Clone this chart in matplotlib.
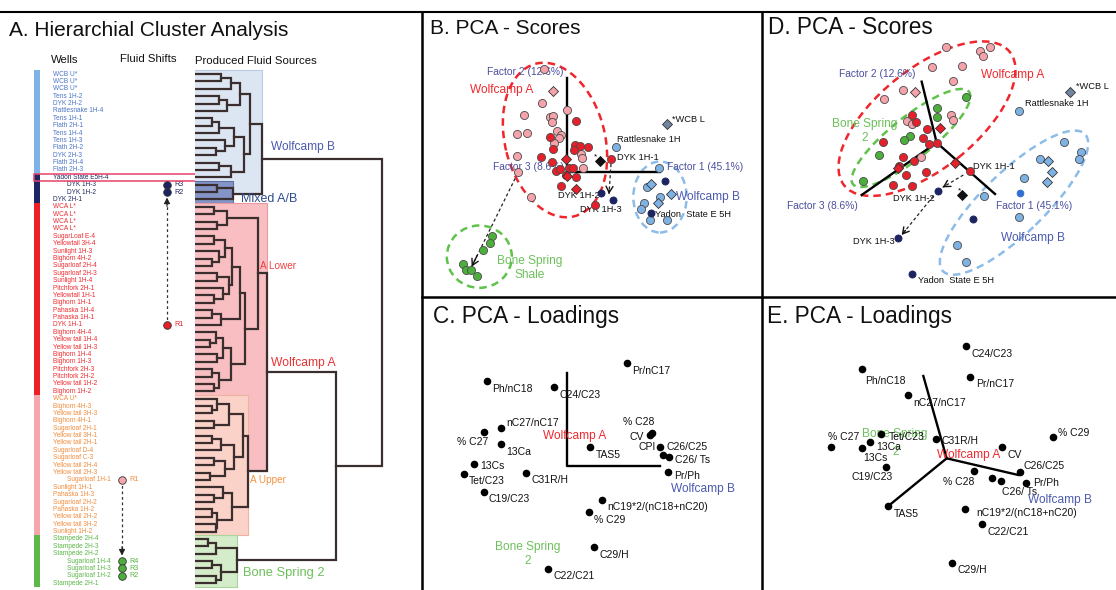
import matplotlib
matplotlib.use("Agg")
import matplotlib.pyplot as plt
from matplotlib.patches import Ellipse, Rectangle

plt.rcParams['font.family'] = ['Liberation Sans', 'DejaVu Sans']

W, H = 1116, 590
fig = plt.figure(figsize=(W / 100, H / 100), dpi=100)

# ============================ DATA ============================
# ---- Panel A: wells (dendrogram leaves, top to bottom) ----
well_names = [
    "WCB U*", "WCB U*", "WCB U*", "Tens 1H-2", "DYK 2H-2", "Rattlesnake 1H-4", "Tens 1H-1",
    "Flath 2H-1", "Tens 1H-4", "Tens 1H-3", "Flath 2H-2", "DYK 2H-3", "Flath 2H-4", "Flath 2H-3",
    "Yadon State E5H-4", "DYK 1H-3", "DYK 1H-2", "DYK 2H-1",
    "WCA L*", "WCA L*", "WCA L*", "WCA L*", "SugarLoaf E-4", "Yellowtail 3H-4", "Sunlight 1H-3",
    "Bighorn 4H-2", "Sugarloaf 2H-4", "Sugarloaf 2H-3", "Sunlight 1H-4", "Pitchfork 2H-1",
    "Yellowtail 1H-1", "Bighorn 1H-1", "Pahaska 1H-4", "Pahaska 1H-1", "DYK 1H-1", "Bighorn 4H-4",
    "Yellow tail 1H-4", "Yellow tail 1H-3", "Bighorn 1H-4", "Bighorn 1H-3", "Pitchfork 2H-3",
    "Pitchfork 2H-2", "Yellow tail 1H-2", "Bighorn 1H-2",
    "WCA U*", "Bighorn 4H-3", "Yellow tail 3H-3", "Bighorn 4H-1", "Sugarloaf 2H-1",
    "Yellow tail 3H-1", "Yellow tail 2H-1", "Sugarloaf D-4", "Sugarloaf C-3", "Yellow tail 2H-4",
    "Yellow tail 2H-3", "Sugarloaf 1H-1", "Sunlight 1H-1", "Pahaska 1H-3", "Sugarloaf 2H-2",
    "Pahaska 1H-2", "Yellow tail 2H-2", "Yellow tail 3H-2", "Sunlight 1H-2",
    "Stampede 2H-4", "Stampede 2H-3", "Stampede 2H-2", "Sugarloaf 1H-4", "Sugarloaf 1H-3",
    "Sugarloaf 1H-2", "Stampede 2H-1"]
group_sizes = [14, 4, 26, 19, 7]          # WCB, mixed, WCA lower, WCA upper, Bone Spring
indented_wells = [15, 16, 55, 66, 67, 68]

# dendrogram: (merge distance, left, right); leaves are well indices
dendro_tree = (100,
  (35.8,
    (29.5,
      (24, (19, (14, 0, 1), 2), (17, (13, 3, 4), 5)),
      (26, (21, (13, (9, 6, 7), 8), (16, 9, (11, 10, 11))), (19, (13, 12, 13), 14))),
    (20.3, (12, 15, 16), 17)),
  (75.4,
    (38.5,
      (33.7,
        (17, (10, 18, 19), (12, 20, 21)),
        (27,
          (24, (20, (16, (10, 22, 23), (13, 24, (9, 25, 26))),
                    (18, (12, 27, 28), (15, 29, (10, 30, 31)))),
               (14, (9, 32, 33), 34)),
          (19, (15, (11, 35, (8, 36, 37)), (12, 38, 39)), (13, (9, 40, 41), (10, 42, 43))))),
      (28.3,
        (25.7, (18, (12, 44, (9, 45, 46)), (10, 47, 48)),
               (21, (14, (9, 49, 50), 51), (16, (10, 52, 53), (8, 54, 55)))),
        (20, (15, 56, (10, 57, 58)), (12, (9, 59, 60), (11, 61, 62))))),
    (22.5, (11, (7, 63, 64), 65), (14, (9, 66, 67), (11, 68, 69)))))

# fluid shifts: (from well, to wells, labels)
shift_wolfcampA = (34, [15, 16], ["R1", "R3", "R2"])
shift_bonespring = (55, [66, 67, 68], ["R1", "R4", "R3", "R2"])

# ---- Panel B: PCA scores (Factor 1, Factor 2) ----
B_pink = [(-0.68, 3.09), (-0.75, 2.09), (0.00, 1.87), (-1.27, 1.72), (-0.50, 1.65), (-0.40, 1.69),
          (-0.43, 1.50), (-1.48, 1.15), (-1.20, 1.17), (-0.28, 1.25), (-0.18, 1.12), (-0.22, 1.02),
          (-0.38, 0.87), (-1.48, 0.49), (0.43, 0.55), (0.47, 0.42), (0.48, 0.12), (-1.45, 0.02),
          (-1.07, -0.73)]
B_red = [(0.28, 1.55), (-0.50, 1.07), (0.25, 0.82), (0.40, 0.79), (0.65, 0.77), (-0.40, 0.69),
         (0.22, 0.67), (-0.78, 0.45), (-0.44, 0.30), (-0.32, 0.05), (-0.20, 0.10), (0.08, 0.14),
         (0.20, 0.12), (-0.03, -0.08), (0.28, -0.15), (-0.17, -0.40), (1.33, 0.39), (0.85, -0.98)]
B_red_dia = [(-0.02, 0.40), (0.00, -0.11), (0.28, -0.51)]
B_pink_dia = [(-0.40, 2.45)]
B_black_dia = [(1.00, 0.35)]
B_navy = [(1.03, -0.63), (1.40, -0.83), (2.95, -0.25), (2.52, -1.23)]
B_lblue = [(1.47, 0.77), (2.78, 0.14), (2.40, -0.43), (2.32, -0.93), (2.22, -1.11), (2.50, -1.43),
           (3.02, -1.43), (2.80, -0.73)]
B_lblue_dia = [(2.53, -0.35), (3.12, -0.65), (2.75, -0.91)]
B_wcbl = [(3.00, 1.44)]
B_green = [(-2.25, -1.91), (-2.30, -2.13), (-2.50, -2.33), (-3.10, -2.76), (-3.02, -2.93),
           (-2.88, -2.93), (-2.70, -3.11)]

# ---- Panel D: PCA scores (rotated view) ----
D_pink = [(0.28, 2.88), (1.30, 2.76), (1.40, 2.60), (1.60, 2.86), (-0.13, 2.28), (0.77, 2.31),
          (0.48, 1.84), (-1.02, 1.58), (-1.58, 1.30), (0.43, 0.83), (-0.88, 0.65), (-0.75, 0.56),
          (0.50, 0.68), (-0.48, -0.44)]
D_pink_dia = [(-0.64, 1.51)]
D_red = [(-0.75, 0.83), (-0.63, 0.63), (-0.30, 0.40), (-1.62, 0.01), (-0.40, 0.13), (-0.22, -0.05),
         (-1.02, -0.44), (-0.68, -0.54), (-1.13, -0.70), (-0.92, -0.96), (-0.33, -0.87),
         (-1.30, -1.27), (-0.74, -1.30), (0.02, 0.00), (1.00, -0.84)]
D_red_dia = [(0.10, 0.45), (0.55, -0.60), (-1.15, -0.75)]
D_green = [(0.87, 1.38), (0.00, 1.03), (0.00, 0.76), (-0.80, 0.20), (-0.98, 0.08), (-1.72, -0.37),
           (-2.20, -1.14)]
D_black_dia = [(0.77, -1.58)]
D_navy = [(0.03, -1.44), (1.10, -2.29), (-1.17, -2.85), (-0.73, -3.95)]
D_lblue = [(2.47, 0.96), (3.82, 0.01), (4.33, -0.29), (4.27, -0.49), (3.10, -0.49), (2.63, -1.05),
           (1.43, -1.59), (2.47, -2.24), (0.60, -3.07), (0.87, -3.59)]
D_blue = [(2.50, -1.52)]
D_lblue_dia = [(3.35, -0.55), (3.47, -0.87), (3.30, -1.17)]
D_wcbl = [(4.00, 1.51)]

# ---- Panels C and E: PCA loadings ----
loading_vars = ["Pr/nC17", "Ph/nC18", "C24/C23", "nC27/nC17", "% C27", "13Ca", "% C28", "CV",
                "CPI", "C26/C25", "C26/ Ts", "Pr/Ph", "TAS5", "13Cs", "Tet/C23", "C31R/H",
                "C19/C23", "nC19*2/(nC18+nC20)", "% C29", "C29/H", "C22/C21"]
C_f1 = [1.80, -2.40, -0.38, -1.98, -2.48, -1.98, 2.57, 2.50, 2.80, 2.90, 3.06, 3.05, 0.70, -2.78,
        -3.08, -1.23, -2.47, 1.07, 0.67, 0.83, -0.55]
C_f2 = [3.08, 2.55, 2.36, 1.15, 1.01, 0.66, 1.00, 0.93, 0.58, 0.33, 0.26, -0.17, 0.56, 0.07,
        -0.23, -0.20, -0.77, -1.02, -1.39, -2.43, -3.08]
E_f1 = [0.70, -2.54, 0.58, -1.17, -3.48, -2.30, 0.83, 1.65, 1.37, 2.20, 1.64, 2.38, -1.75, -2.54,
        -1.98, -0.32, -1.82, 0.55, 3.20, 0.17, 1.07]
E_f2 = [2.45, 2.68, 3.37, 1.89, 0.33, 0.48, -0.38, 0.34, -0.58, -0.42, -0.68, -0.75, -1.43, 0.30,
        0.73, 0.57, -0.27, -1.52, 0.65, -3.13, -1.98]

# ============================ LAYOUT / STYLE ============================
C_PINK, C_RED, C_NAVY = '#F5A3AB', '#E5202A', '#1C2462'
C_LBLUE, C_GREEN, C_BLUE = '#7EB2E4', '#4DAF3B', '#2F6FD0'
C_FACTOR = '#4B4F9E'
EDGE = '#4a4a4a'


def pix_box(x0, y0, x1, y1):
    return [x0 / W, 1 - y1 / H, (x1 - x0) / W, (y1 - y0) / H]


# ---------------- Panel A ----------------
ROW0, ROWH = 74.0, 7.38
ylimA = ((590 - ROW0) / ROWH, (12 - ROW0) / ROWH)
axA = fig.add_axes(pix_box(0, 12, 421, 590))
axA.set_xlim(0, 421)
axA.set_ylim(*ylimA)
axA.axis('off')

grp_bar = ['#7FB2E6', '#1C2663', '#EE2027', '#F6A7AE', '#5DB947']
grp_txt = ['#4A74C8', '#1F2A5E', '#EE2A2F', '#F28B3B', '#5AB646']
leaf_col_bar, leaf_col_txt = [], []
for g, n in enumerate(group_sizes):
    leaf_col_bar += [grp_bar[g]] * n
    leaf_col_txt += [grp_txt[g]] * n
idx = list(range(len(well_names)))
axA.barh(idx, [6] * len(idx), left=34, height=1.0, color=leaf_col_bar, linewidth=0)
for i, name in enumerate(well_names):
    x = 67 if i in indented_wells else 53
    axA.text(x, i, name, fontsize=4.7, color=leaf_col_txt[i], va='center', ha='left')
# highlight of Yadon State row
axA.add_patch(Rectangle((34, 14 - 0.48), 193, 0.96, fill=False, ec='#E8426A', lw=1.1, zorder=5))


def shift(ax, xcol, src, dsts, labels, c_src, c_dst, lab_src, lab_dst):
    up = dsts[0] < src
    end = max(dsts) if up else min(dsts)
    tip = end + (0.75 if up else -0.75)
    ax.plot([xcol, xcol], [src, tip + (0.6 if up else -0.6)], ls=(0, (2.2, 2.2)), color='#333', lw=0.9)
    ax.annotate('', xy=(xcol, tip), xytext=(xcol, tip + (1.2 if up else -1.2)),
                arrowprops=dict(arrowstyle='-|>,head_width=0.18,head_length=0.35', color='#222', lw=0.8,
                                shrinkA=0, shrinkB=0))
    ax.scatter([xcol], [src], s=30, color=c_src, edgecolor='#333', lw=0.6, zorder=6)
    ax.scatter([xcol] * len(dsts), dsts, s=30, color=c_dst, edgecolor='#333', lw=0.6, zorder=6)
    ax.text(xcol + 7, src, labels[0], fontsize=5.2, color=lab_src, va='center')
    for d, lab in zip(dsts, labels[1:]):
        ax.text(xcol + 7, d, lab, fontsize=5.2, color=lab_dst, va='center')


shift(axA, 167, shift_wolfcampA[0], shift_wolfcampA[1], shift_wolfcampA[2],
      C_RED, C_NAVY, '#E5202A', '#1F2A5E')
shift(axA, 122, shift_bonespring[0], shift_bonespring[1], shift_bonespring[2],
      '#F6A7AE', C_GREEN, '#F28B3B', '#5AB646')

# dendrogram
PX_PER_D = 1.87
axD0 = fig.add_axes(pix_box(195, 12, 421, 590))
axD0.set_xlim(0, 226 / PX_PER_D)
axD0.set_ylim(*ylimA)
axD0.axis('off')

node_pos = {}
segs = []


def walk(node):
    if isinstance(node, int):
        return 0.0, float(node)
    h, l, r = node
    hl, yl = walk(l)
    hr, yr = walk(r)
    segs.append(([hl, h, h, hr], [yl, yl, yr, yr]))
    node_pos[h] = (yl + yr) / 2
    return h, (yl + yr) / 2


walk(dendro_tree)
nB = group_sizes[0] + group_sizes[1]
nAL = nB + group_sizes[2]
nAU = nAL + group_sizes[3]
boxes = [
    (35.8, -0.5, node_pos[20.3], '#DCE6F2', '#B9CBE6'),
    (20.3, group_sizes[0] + 0.5, nB - 0.5, '#8494C6', '#5D6DA8'),
    (38.5, nB - 0.5, node_pos[28.3], '#F8BEC1', '#E99AA0'),
    (28.3, nAL - 0.5, nAU - 0.5, '#FBD2C7', '#EFB1A2'),
    (22.5, nAU - 0.5, len(well_names) - 0.5, '#D4ECC9', '#A9D49A'),
]
for h, y0, y1, fc, ec in boxes:
    axD0.add_patch(Rectangle((-0.6, y0), h + 0.6, y1 - y0, fc=fc, ec=ec, lw=0.8, zorder=1))
for xs, ys in segs:
    axD0.plot(xs, ys, color='#3A2E2E', lw=1.6, solid_joinstyle='miter', zorder=3)

clabels = [("Wolfcamp B", 40.5, node_pos[35.8] - 1.6, '#4B5AAE', 8.6),
           ("Mixed A/B", 24.5, 16.9, '#2F4C8E', 9.0),
           ("A Lower", 34.8, 26.0, '#F04040', 7.2),
           ("Wolfcamp A", 40.5, node_pos[38.5] - 1.3, '#EE3333', 8.7),
           ("A Upper", 29.5, 55.0, '#F39442', 7.2),
           ("Bone Spring 2", 25.5, 67.6, '#6CC05A', 9.3)]
for t, x, y, c, fs in clabels:
    axD0.text(x, y, t, color=c, fontsize=fs, va='center', ha='left')

# ---------------- PCA panels ----------------
UNIT = 100 / 3.0  # px per score unit


def pca_axes(x0, y0, x1, y1, ox, oy):
    ax = fig.add_axes(pix_box(x0, y0, x1, y1))
    ax.set_xlim((x0 - ox) / UNIT, (x1 - ox) / UNIT)
    ax.set_ylim((oy - y1) / UNIT, (oy - y0) / UNIT)
    ax.axis('off')
    return ax


def pts(ax, data, color, marker='o', s=34, ec=EDGE, lw=0.6, z=4):
    xs = [p[0] for p in data]
    ys = [p[1] for p in data]
    ax.scatter(xs, ys, s=s, marker=marker, color=color, edgecolor=ec, linewidth=lw, zorder=z)


def dash_arrow(ax, start, end):
    ax.plot([start[0], end[0]], [start[1], end[1]], ls=(0, (2.5, 2)), color='#222', lw=0.9, zorder=3)
    dx, dy = end[0] - start[0], end[1] - start[1]
    ax.annotate('', xy=end, xytext=(end[0] - 0.12 * dx, end[1] - 0.12 * dy),
                arrowprops=dict(arrowstyle='->,head_width=0.25,head_length=0.45', color='#111', lw=1.0,
                                shrinkA=0, shrinkB=0), zorder=5)


def ell(ax, c, w, h, ang, color):
    ax.add_patch(Ellipse(c, w, h, angle=ang, fill=False, ec=color, lw=1.8, ls=(0, (3, 2)), zorder=2))


LBL = dict(fontsize=6.7, color='#111', va='center', ha='left')
FAC = dict(fontsize=7.4, color=C_FACTOR, va='center', ha='center')

# Panel B
axB = pca_axes(423, 14, 761, 296, 420 + 440 / 3, 40 + 397 / 3)
ell(axB, (-0.35, 0.97), 4.72, 3.0, -75.9, '#F0262D')
ell(axB, (2.80, -0.74), 1.6, 2.13, 0, '#8DBCE8')
ell(axB, (-2.62, -2.53), 1.95, 1.87, 0, '#5FC24A')
axB.plot([0, 0, 2.80], [2.82, 0, 0], color='k', lw=1.7, zorder=3)
pts(axB, B_pink, C_PINK)
pts(axB, B_red, C_RED)
pts(axB, B_green, C_GREEN)
pts(axB, B_lblue, C_LBLUE)
pts(axB, B_navy, C_NAVY, s=26, ec=C_NAVY)
pts(axB, B_red_dia, C_RED, marker='D', s=26, ec='#333')
pts(axB, B_pink_dia, C_PINK, marker='D', s=26, ec='#333')
pts(axB, B_black_dia, '#111', marker='D', s=26, ec='#111')
pts(axB, B_lblue_dia, C_LBLUE, marker='D', s=26, ec='#333')
pts(axB, B_wcbl, '#7285A0', marker='D', s=26, ec='#333')
dash_arrow(axB, (-1.47, -0.03), (-2.85, -2.83))
dash_arrow(axB, (1.33, 0.25), (1.27, -0.65))
axB.text(-1.25, 3.00, "Factor 2 (12.6%)", **FAC)
axB.text(-1.15, 0.17, "Factor 3 (8.6%)", **FAC)
axB.text(4.15, 0.17, "Factor 1 (45.1%)", **FAC)
axB.text(-1.96, 2.47, "Wolfcamp A", color='#EE2A2F', fontsize=8.6, ha='center', va='center')
axB.text(4.25, -0.75, "Wolfcamp B", color='#4B5AAE', fontsize=8.6, ha='center', va='center')
axB.text(-1.10, -2.86, "Bone Spring\nShale", color='#6CC05A', fontsize=8.6, ha='center', va='center',
         linespacing=1.2)
axB.text(3.15, 1.57, "*WCB L", **LBL)
axB.text(1.50, 0.99, "Rattlesnake 1H", **LBL)
axB.text(1.50, 0.45, "DYK 1H-1", **LBL)
axB.text(-0.25, -0.71, "DYK 1H-2", **LBL)
axB.text(0.40, -1.13, "DYK 1H-3", **LBL)
axB.text(2.65, -1.26, "Yadon  State E 5H", **LBL)
axB.text(0.87, 0.45, "*", fontsize=6, ha='center', va='center')

# Panel D
axD = pca_axes(764, 14, 1116, 296, 760 + 530 / 3, 40 + 308 / 3)
ell(axD, (-0.29, 0.72), 6.38, 3.0, 38.9, '#F0262D')
ell(axD, (-0.77, 0.14), 4.45, 1.25, 38.6, '#5FC24A')
ell(axD, (2.32, -1.80), 5.92, 1.86, 44, '#8DBCE8')
for end in [(-0.45, 1.83), (-2.25, -1.57), (1.75, -1.54)]:
    axD.plot([0, end[0]], [0, end[1]], color='k', lw=1.7, zorder=3)
pts(axD, D_pink, C_PINK)
pts(axD, D_red, C_RED)
pts(axD, D_green, C_GREEN)
pts(axD, D_lblue, C_LBLUE)
pts(axD, D_blue, C_BLUE, s=24, ec=C_BLUE)
pts(axD, D_navy, C_NAVY, s=26, ec=C_NAVY)
pts(axD, D_red_dia, C_RED, marker='D', s=26, ec='#333')
pts(axD, D_pink_dia, C_PINK, marker='D', s=26, ec='#333')
pts(axD, D_black_dia, '#111', marker='D', s=26, ec='#111')
pts(axD, D_lblue_dia, C_LBLUE, marker='D', s=26, ec='#333')
pts(axD, D_wcbl, '#7285A0', marker='D', s=26, ec='#333')
dash_arrow(axD, (0.80, -0.97), (0.18, -1.34))
dash_arrow(axD, (-0.10, -1.60), (-1.05, -2.77))
axD.text(-1.78, 2.05, "Factor 2 (12.6%)", **FAC)
axD.text(-3.42, -1.89, "Factor 3 (8.6%)", **FAC)
axD.text(2.92, -1.89, "Factor 1 (45.1%)", **FAC)
axD.text(2.28, 2.03, "Wolfcamp A", color='#EE2A2F', fontsize=8.6, ha='center', va='center')
axD.text(-2.15, 0.36, "Bone Spring\n2", color='#6CC05A', fontsize=8.6, ha='center', va='center',
         linespacing=1.2)
axD.text(2.88, -2.87, "Wolfcamp B", color='#4B5AAE', fontsize=8.6, ha='center', va='center')
axD.text(4.18, 1.68, "*WCB L", **LBL)
axD.text(2.65, 1.18, "Rattlesnake 1H", **LBL)
axD.text(1.10, -0.72, "DYK 1H-1", **LBL)
axD.text(-1.30, -1.67, "DYK 1H-2", **LBL)
axD.text(-2.50, -2.97, "DYK 1H-3", **LBL)
axD.text(-0.55, -4.14, "Yadon  State E 5H", **LBL)
axD.text(0.68, -1.44, "*", fontsize=6, ha='center', va='center')

# Panels C and E (loadings)
C_label_off = {"nC27/nC17": (0.16, 0.13), "% C27": (-0.82, -0.30), "% C28": (-0.87, 0.33),
               "CV": (-0.62, -0.05), "CPI": (-0.65, 0.0), "C26/C25": (0.10, 0.23),
               "C26/ Ts": (0.19, -0.08), "Pr/Ph": (0.17, -0.13), "13Cs": (0.18, -0.07),
               "Tet/C23": (0.13, -0.22), "C19/C23": (0.12, -0.23), "nC19*2/(nC18+nC20)": (0.16, -0.20)}
E_label_off = {"Ph/nC18": (0.09, -0.36), "% C27": (-0.07, 0.32), "13Ca": (0.20, -0.15),
               "% C28": (-0.95, -0.32), "CPI": None, "C26/C25": (0.10, 0.20), "C26/ Ts": (0.01, -0.32),
               "Pr/Ph": (0.20, 0.02), "13Cs": (0.04, -0.28), "Tet/C23": (0.23, -0.08),
               "C31R/H": (0.17, -0.04), "C19/C23": (-1.03, -0.28), "nC19*2/(nC18+nC20)": (0.35, -0.11),
               "% C29": (0.15, 0.12)}
LL = dict(fontsize=7.5, color='#111', va='center', ha='left')

axC = pca_axes(423, 299, 761, 590, 420 + 440 / 3, 300 + 498 / 3)
axC.plot([0, 0, 2.80], [2.80, 0, 0], color='k', lw=1.7, zorder=3)
axC.scatter(C_f1, C_f2, s=20, color='k', zorder=4)
for v, x, y in zip(loading_vars, C_f1, C_f2):
    off = C_label_off.get(v, (0.16, -0.23))
    axC.text(x + off[0], y + off[1], v, **LL)
axC.text(0.23, 0.91, "Wolfcamp A", color='#EE2A2F', fontsize=8.6, ha='center', va='center')
axC.text(4.08, -0.70, "Wolfcamp B", color='#4B5AAE', fontsize=8.6, ha='center', va='center')
axC.text(-1.18, -2.63, "Bone Spring\n2", color='#6CC05A', fontsize=8.6, ha='center', va='center',
         linespacing=1.2)

axE = pca_axes(764, 299, 1116, 590, 760 + 560 / 3, 300 + 475 / 3)
for end in [(-0.70, 2.47), (2.15, -0.50), (-1.75, -1.43)]:
    axE.plot([0, end[0]], [0, end[1]], color='k', lw=1.7, zorder=3)
axE.scatter(E_f1, E_f2, s=20, color='k', zorder=4)
axE.text(-1.55, 0.73, "Bone Spring", color='#6CC05A', fontsize=8.6, ha='center', va='center', zorder=2)
axE.text(-1.52, 0.20, "2", color='#6CC05A', fontsize=8.6, ha='center', va='center', zorder=2)
for v, x, y in zip(loading_vars, E_f1, E_f2):
    off = E_label_off.get(v, (0.17, -0.23))
    if off is None:
        continue
    axE.text(x + off[0], y + off[1], v, zorder=3, **LL)
axE.text(0.65, 0.10, "Wolfcamp A", color='#EE2A2F', fontsize=8.6, ha='center', va='center', zorder=5)
axE.text(3.40, -1.25, "Wolfcamp B", color='#4B5AAE', fontsize=8.6, ha='center', va='center')

# ---------------- overlay: frames, titles, headers ----------------
ov = fig.add_axes([0, 0, 1, 1])
ov.set_xlim(0, W)
ov.set_ylim(H, 0)
ov.axis('off')
ov.plot([0, W], [12, 12], color='k', lw=1.5)
ov.plot([422, 422], [12, H], color='k', lw=1.8)
ov.plot([762, 762], [12, H], color='k', lw=1.8)
ov.plot([422, W], [297, 297], color='k', lw=1.8)
ov.text(9, 30, "A. Hierarchial Cluster Analysis", fontsize=15, color='#111', va='center', ha='left')
ov.text(430, 28, "B. PCA - Scores", fontsize=15, color='#111', va='center', ha='left')
ov.text(768, 28, "D. PCA - Scores", fontsize=16.3, color='#111', va='center', ha='left')
ov.text(433, 316, "C. PCA - Loadings", fontsize=16.3, color='#111', va='center', ha='left')
ov.text(767, 316, "E. PCA - Loadings", fontsize=16.3, color='#111', va='center', ha='left')
HD = dict(fontsize=8.2, color='#111', va='center', ha='center')
ov.text(65, 60, "Wells", **HD)
ov.text(148, 59, "Fluid Shifts", **HD)
ov.text(256, 61, "Produced Fluid Sources", **HD)

fig.savefig("out.png", dpi=100)
